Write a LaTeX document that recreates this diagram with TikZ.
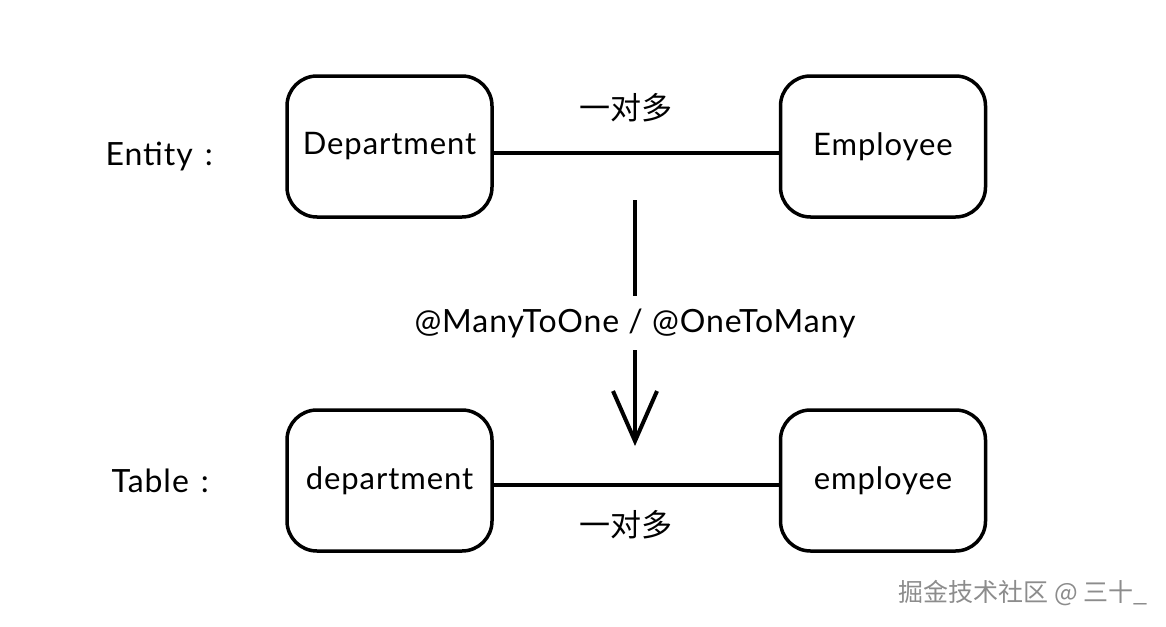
\documentclass[tikz,border=0pt]{standalone}
\usepackage{fontspec}
\setmainfont{Lato}[LetterSpace=3]
\newfontfamily\cjk{Noto Sans CJK SC}
\usetikzlibrary{arrows.meta}
\begin{document}
\begin{tikzpicture}[x=1pt,y=-1pt,
  ent/.style={draw=black,line width=3.5pt,rounded corners=30pt,minimum width=205pt,minimum height=141pt,font=\fontsize{31}{34}\selectfont,inner sep=0pt},
  rel/.style={draw=black,line width=4pt},
  lbl/.style={font=\fontsize{32}{36}\selectfont},
  zh/.style={font=\cjk\fontsize{31}{34}\selectfont}]
\useasboundingbox (0,0) rectangle (1166,626);
\node[ent] (D) at (389.5,146.5) {Department};
\node[ent] (E) at (883,146.5) {Employee};
\node[ent] (d) at (389.5,480.5) {department};
\node[ent] (e) at (883,480.5) {employee};
\draw[rel] (D.east |- 0,153) -- (E.west |- 0,153);
\draw[rel] (d.east |- 0,485) -- (e.west |- 0,485);
\node[zh] (z1) at (626,108) {一对多};
\node[zh] (z2) at (626,525) {一对多};
\node[lbl,anchor=west] (ent) at (102,157) {Entity\hspace{12pt}:};
\node[lbl,anchor=west] (tab) at (108,481) {Table\hspace{12pt}:};
\coordinate (a) at (635,200);
\coordinate (b) at (635,446);
\draw[line width=4pt,-{Straight Barb[length=50pt,width=44pt,line width=4pt]}] (a) -- node[lbl,fill=white,inner xsep=2pt,inner ysep=12pt] (ann) {@ManyToOne / @OneToMany} (b);
\node[font=\cjk\fontsize{25}{28}\selectfont,text=black!45,anchor=east] (wm) at (1151,593) {掘金技术社区 @ 三十\_};
\end{tikzpicture}
\end{document}
